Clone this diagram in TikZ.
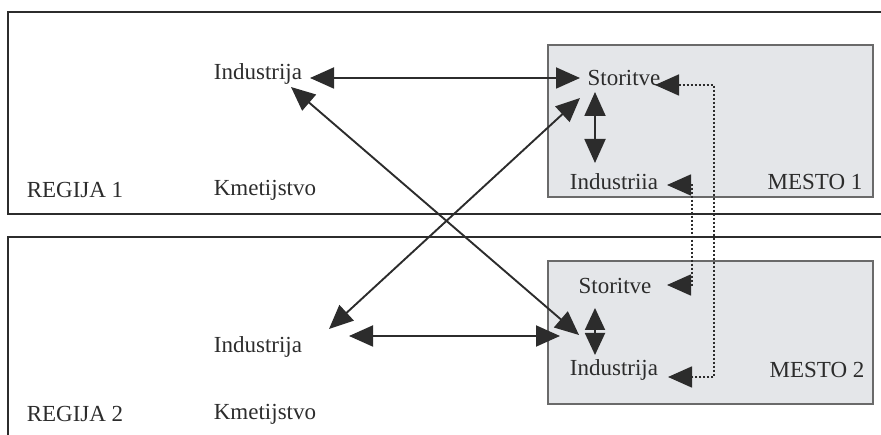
\documentclass[tikz,border=0pt]{standalone}
\usepackage{fontspec}
\setmainfont{Liberation Serif}
\usetikzlibrary{arrows.meta}
\definecolor{ink}{HTML}{2C2C2C}
\definecolor{boxfill}{HTML}{E4E6E9}
\definecolor{boxline}{HTML}{6A6A6A}
\tikzset{
  lbl/.style={inner sep=0pt, text=ink, font=\fontsize{23}{26}\selectfont},
  regionframe/.style={draw=ink, line width=1.4pt},
  citybox/.style={draw=boxline, fill=boxfill, line width=1.8pt},
  link/.style={draw=ink, line width=1.9pt, {Triangle[length=24pt,width=21pt]}-{Triangle[length=24pt,width=21pt]}},
  shortlink/.style={draw=ink, line width=1.9pt, {Triangle[length=22pt,width=20pt]}-{Triangle[length=22pt,width=20pt]}},
  dotlink/.style={draw=ink, line width=1.7pt, dash pattern=on 2pt off 2pt, {Triangle[length=24pt,width=21pt]}-{Triangle[length=24pt,width=21pt]}}
}
\begin{document}
\begin{tikzpicture}[x=1pt,y=-1pt]
\useasboundingbox (0,0) rectangle (881,435);
\begin{scope}
\clip (0,0) rectangle (881,435);
% region frames, open to the right and below
\draw[regionframe] (8,12) rectangle (900,214);
\draw[regionframe] (8,237) rectangle (900,445);
% city boxes
\draw[citybox] (548,45) rectangle (873,197);
\draw[citybox] (548,261) rectangle (873,404);
\end{scope}

% region 1 labels
\node[lbl] (ind1) at (258,74) {Industrija};
\node[lbl] (kme1) at (265,190) {Kmetijstvo};
\node[lbl] (reg1) at (75,190) {REGIJA 1};
% region 2 labels
\node[lbl] (ind2) at (258,347) {Industrija};
\node[lbl] (kme2) at (265,414) {Kmetijstvo};
\node[lbl] (reg2) at (75,414) {REGIJA 2};
% city 1
\node[lbl] (sto1) at (624,78) {Storitve};
\node[lbl] (indc1) at (614,182) {Industriia};
\node[lbl] (mes1) at (815,182) {MESTO 1};
% city 2
\node[lbl] (sto2) at (615,286) {Storitve};
\node[lbl] (indc2) at (614,370) {Industrija};
\node[lbl] (mes2) at (817,370) {MESTO 2};

% connector ends
\coordinate (i1e) at (310,78);
\coordinate (i1s) at (291,87);
\coordinate (s1w) at (580,78);
\coordinate (s1sw) at (580,98);
\coordinate (s1s) at (595,92);
\coordinate (c1n) at (595,163);
\coordinate (i2ne) at (329,329);
\coordinate (i2e) at (349,336);
\coordinate (c2w) at (560,336);
\coordinate (c2nw) at (579,335);
\coordinate (s2s) at (595,308);
\coordinate (c2n) at (595,355);
\coordinate (s1e) at (655,85);
\coordinate (c2e) at (668,377);
\coordinate (c1e) at (667,185);
\coordinate (s2e) at (667,285);

% solid links
\draw[link] (i1e) -- (s1w);
\draw[link] (i1s) -- (c2nw);
\draw[link] (s1sw) -- (i2ne);
\draw[link] (s1s) -- (c1n);
\draw[link] (i2e) -- (c2w);
\draw[shortlink] (s2s) -- (c2n);
% dotted links between the two cities
\draw[dotlink] (s1e) -- (714,85) -- (714,377) -- (c2e);
\draw[dotlink] (c1e) -- (692,185) -- (692,285) -- (s2e);
\end{tikzpicture}
\end{document}
